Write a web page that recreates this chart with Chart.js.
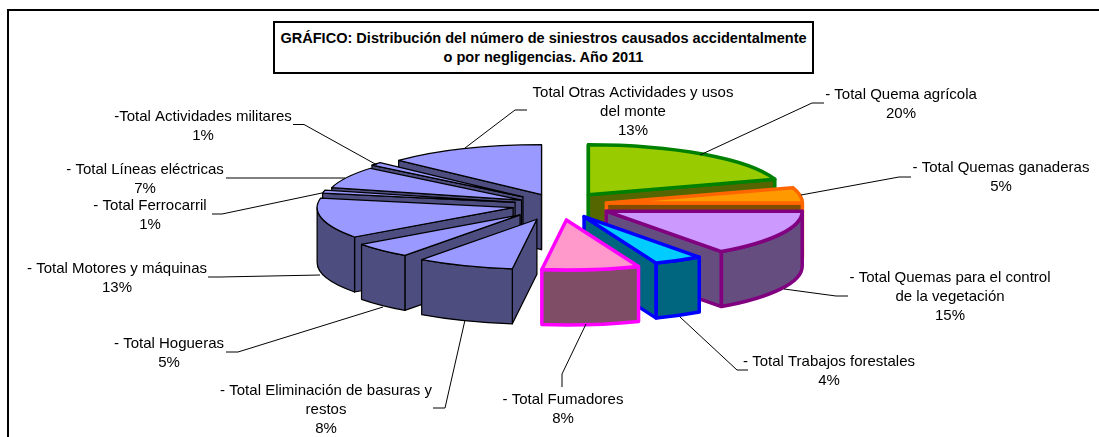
<!doctype html>
<html lang="es">
<head>
<meta charset="utf-8"/>
<title>Distribución de siniestros 2011</title>
<style>
  body{margin:0;background:#fff;font-family:"Liberation Sans",Arial,sans-serif}
  .wrap{position:relative;width:1099px;height:437px;overflow:hidden}
  canvas{position:absolute;left:0;top:0}
  .frame{position:absolute;left:7px;top:9px;right:-4px;bottom:-4px;border:2px solid #000}
  .tit{position:absolute;left:273px;top:21px;width:537px;height:49px;border:2px solid #000;background:#fff;
       font-size:14.55px;font-weight:700;line-height:19px;text-align:center;white-space:nowrap;color:#000}
  .tit div{position:relative;top:6px}
</style>
<script src="https://cdn.jsdelivr.net/npm/chart.js@4.4.0/dist/chart.umd.min.js"></script>
</head>
<body>
<div class="wrap">
  <div class="frame"></div>
  <canvas id="pie" width="1099" height="437"></canvas>
  <div class="tit"><div>GRÁFICO: Distribución del número de siniestros causados accidentalmente<br>o por negligencias. Año 2011</div></div>
</div>

<script>
  // datos
  const categories = ['- Total Quema agrícola','- Total Quemas ganaderas','- Total Quemas para el control de la vegetación',
    '- Total Trabajos forestales','- Total Fumadores','- Total Eliminación de basuras y restos','- Total Hogueras',
    '- Total Motores y máquinas','- Total Ferrocarril','- Total Líneas eléctricas','-Total Actividades militares',
    'Total Otras Actividades y usos del monte'];
  const values = [20,5,15,4,8,8,5,13,1,7,1,13];

  // colores
  const topColors  = ['#99CC00','#FF9900','#CC99FF','#00CCFF','#FF99CC','#9999FF','#9999FF','#9999FF','#9999FF','#9999FF','#9999FF','#9999FF'];
  const sideColors = ['#556600','#804D00','#664D80','#006680','#804D66','#4D4D80','#4D4D80','#4D4D80','#4D4D80','#4D4D80','#4D4D80','#4D4D80'];
  const edgeColors = ['#008000','#FF6600','#800080','#0000FF','#FF00FF','#000','#000','#000','#000','#000','#000','#000'];
  const edgeWidths = [3.5,3.5,3.5,3.5,3.5,1.25,1.25,1.25,1.25,1.25,1.25,1.25];

  // separación de cada porción
  const explode = [50,48,53,52,59,60,55,47,45,42,48,44];
  const squash = 50/196, depth = 55;

  // etiquetas: líneas, centro x, y de cada línea
  const labelLines = [['- Total Quema agrícola'],['- Total Quemas ganaderas'],['- Total Quemas para el control','de la vegetación'],
    ['- Total Trabajos forestales'],['- Total Fumadores'],['- Total Eliminación de basuras y','restos'],['- Total Hogueras'],
    ['- Total Motores y máquinas'],['- Total Ferrocarril'],['- Total Líneas eléctricas'],['-Total Actividades militares'],
    ['Total Otras Actividades y usos','del monte']];
  const labelX = [901,1001,950,829,563,326,169,117,150,145,203,633];
  const labelY = [95,168,278,362,400,391,344,269,206,170,117,93];
  const leaders = [
    [[824,103],[812,103],[700,155]],
    [[911,177],[899,177],[801,195]],
    [[848,296],[836,296],[784,289]],
    [[748,370],[737,370],[680,317]],
    [[562,387],[562,374],[586,324]],
    [[433,408],[445,408],[465,320]],
    [[226,352],[238,352],[383,307]],
    [[208,277],[220,277],[320,275]],
    [[212,214],[222,214],[322,193]],
    [[226,178],[345,178]],
    [[293,124.5],[304,124.5],[377,165]],
    [[527,110],[515,110],[465,148]]
  ];

  const pie3d = {
    id:'pie3d',
    beforeDatasetsDraw(chart){
      const ctx = chart.ctx;
      const arcs = chart.getDatasetMeta(0).data;
      const order = arcs.map((a,i)=>i).sort((p,q)=>Math.sin(mid(arcs[p]))-Math.sin(mid(arcs[q])));
      order.forEach(i=>drawSlice(ctx, arcs[i], i));
      return false;
    },
    afterDraw(chart){
      const ctx = chart.ctx;
      ctx.save();
      ctx.strokeStyle = '#000'; ctx.lineWidth = 1;
      leaders.forEach(l=>{
        ctx.beginPath();
        l.forEach((p,k)=> k ? ctx.lineTo(p[0],p[1]) : ctx.moveTo(p[0],p[1]));
        ctx.stroke();
      });
      ctx.fillStyle = '#000';
      ctx.font = '15px "Liberation Sans",Arial,sans-serif';
      ctx.textAlign = 'center'; ctx.textBaseline = 'middle';
      labelLines.forEach((lines,i)=>{
        lines.concat(values[i]+'%').forEach((t,k)=> ctx.fillText(t, labelX[i], labelY[i]+k*18.7));
      });
      ctx.restore();
    }
  };

  function mid(a){ return (a.startAngle+a.endAngle)/2; }

  function drawSlice(ctx, a, i){
    const r = a.outerRadius, m = mid(a);
    const ox = a.x + Math.cos(m)*explode[i];
    const oy = a.y + Math.sin(m)*explode[i]*squash;
    const rimX = t => ox + Math.cos(t)*r;
    const rimY = t => oy + Math.sin(t)*r*squash;

    ctx.save();
    ctx.lineJoin = 'round';
    ctx.strokeStyle = edgeColors[i];
    ctx.lineWidth = edgeWidths[i];
    ctx.fillStyle = sideColors[i];

    // paredes radiales visibles
    [[a.startAngle,-1],[a.endAngle,1]].forEach(([t,dir])=>{
      if (Math.sin(t+dir*Math.PI/2) < -0.001) return;
      ctx.beginPath();
      ctx.moveTo(ox,oy);
      ctx.lineTo(rimX(t),rimY(t));
      ctx.lineTo(rimX(t),rimY(t)+depth);
      ctx.lineTo(ox,oy+depth);
      ctx.closePath();
      ctx.fill(); ctx.stroke();
    });

    // pared exterior (solo la mitad delantera)
    const two = Math.PI*2;
    for (let k=-1;k<=1;k++){
      const s = Math.max(a.startAngle, k*two), e = Math.min(a.endAngle, k*two+Math.PI);
      if (e <= s) continue;
      ctx.beginPath();
      ctx.ellipse(ox,oy,r,r*squash,0,s,e);
      ctx.lineTo(rimX(e),rimY(e)+depth);
      ctx.ellipse(ox,oy+depth,r,r*squash,0,e,s,true);
      ctx.closePath();
      ctx.fill(); ctx.stroke();
    }

    // cara superior: relleno de la propia librería
    ctx.save();
    ctx.translate(ox,oy);
    ctx.scale(1,squash);
    ctx.translate(-a.x,-a.y);
    a.draw(ctx);
    ctx.restore();

    ctx.beginPath();
    ctx.moveTo(ox,oy);
    ctx.ellipse(ox,oy,r,r*squash,0,a.startAngle,a.endAngle);
    ctx.closePath();
    ctx.stroke();
    ctx.restore();
  }

  new Chart(document.getElementById('pie'), {
    type:'pie',
    data:{ labels:categories, datasets:[{ data:values, backgroundColor:topColors, borderWidth:0 }] },
    options:{
      responsive:false,
      animation:false,
      events:[],
      radius:196,
      layout:{ padding:{ left:19, right:0, top:0, bottom:27 } },
      plugins:{ legend:{ display:false }, tooltip:{ enabled:false } }
    },
    plugins:[pie3d]
  });
</script>
</body>
</html>
